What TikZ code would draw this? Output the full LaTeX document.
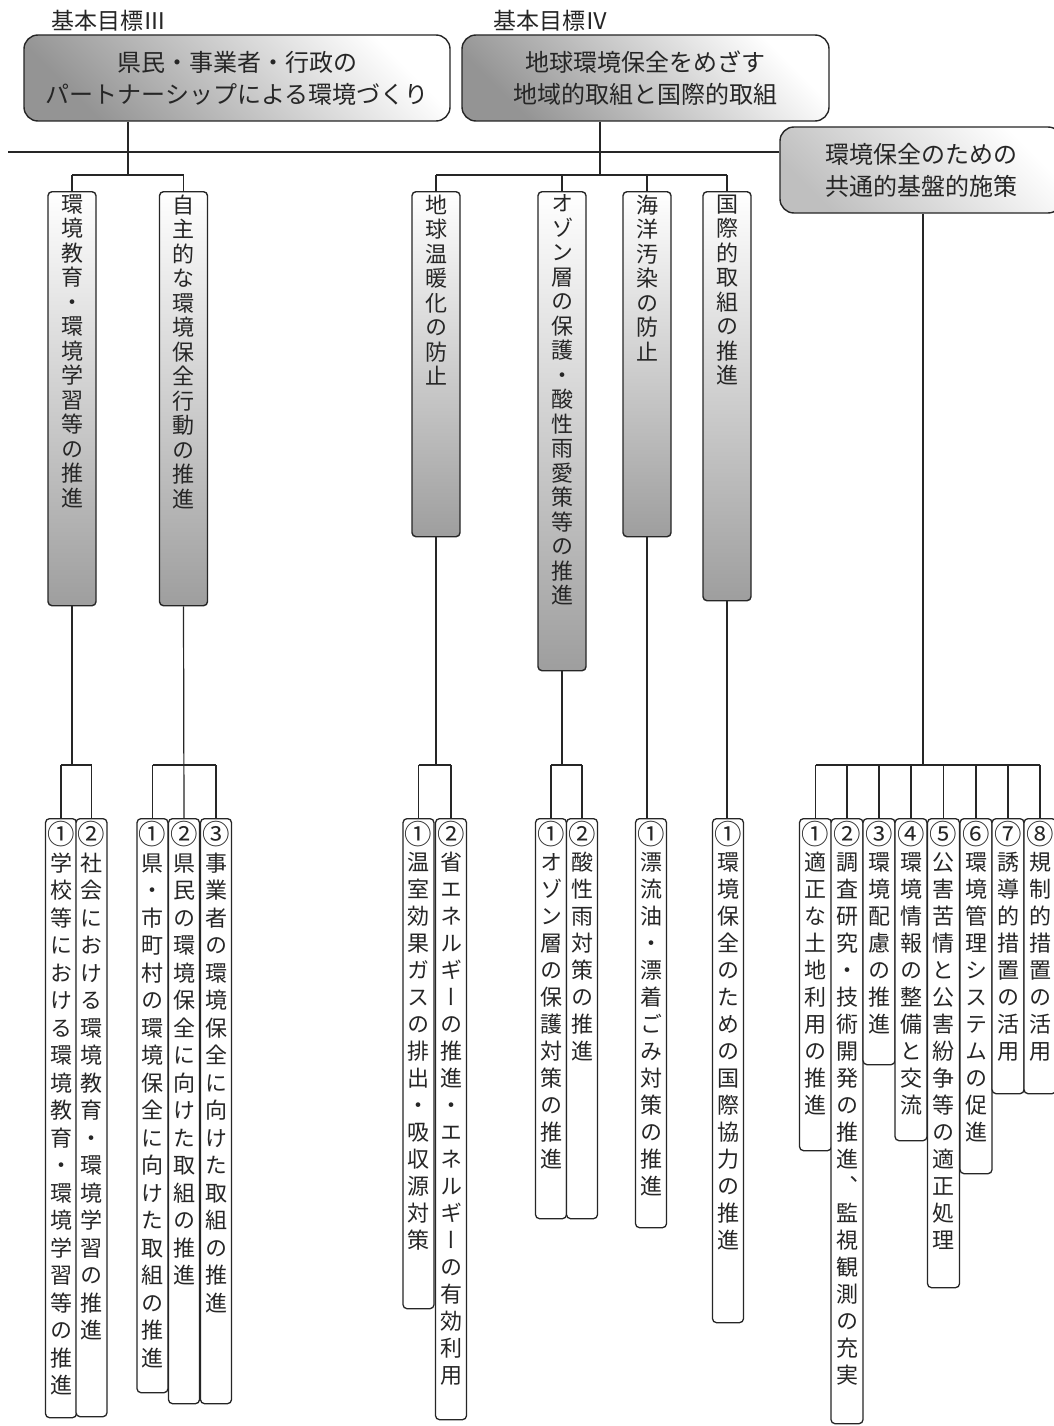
\documentclass[tikz,border=0pt]{standalone}
\usepackage{fontspec}
\usepackage{graphicx}
\setmainfont{Noto Sans CJK JP}
\newfontfamily\vfont[RawFeature=+vert]{Noto Sans CJK JP}
\usetikzlibrary{positioning, calc}

% vertical column of characters: pitch, height, text
\ExplSyntaxOn
\tl_const:Nn \c_circnum_tl { ①②③④⑤⑥⑦⑧ }
\NewDocumentCommand \vcol { m m m }
  {
    \vbox_to_ht:nn { #2pt }
      {
        \vfont
        \skip_set:Nn \baselineskip { #1pt }
        \dim_set:Nn \lineskiplimit { -100pt }
        \skip_set:Nn \lineskip { 0pt }
        \vskip 3pt
        \tl_map_inline:nn {#3}
          {
            \tl_if_in:NnTF \c_circnum_tl {##1}
              { \hbox_to_wd:nn { 1em } { \hss \raisebox{-0.05em}{\scalebox{1.25}{##1}} \hss } }
              { \hbox_to_wd:nn { 1em } { \hss ##1 \hss } }
          }
        \vfil
      }
  }
\ExplSyntaxOff

\begin{document}
\begin{tikzpicture}[x=1pt, y=-1pt,
    goal/.style={draw=black!85, line width=1.4pt, rounded corners=14pt, align=center, text=black!85,
        font=\fontsize{24}{32}\selectfont, top color=white, bottom color=black!42, shading angle=-45,
        minimum width=426pt, minimum height=86pt, inner sep=0pt},
    goallab/.style={font=\fontsize{23}{26}\selectfont, text=black!85, inner sep=0pt},
    catbox/.style={draw=black!85, line width=1.4pt, rounded corners=4pt, top color=white, bottom color=black!38,
        minimum width=48pt, inner sep=0pt, anchor=north, text=black!85, font=\fontsize{22}{24}\selectfont},
    itembox/.style={draw=black!85, line width=1.3pt, rounded corners=4pt, fill=white,
        minimum width=31pt, inner sep=0pt, anchor=north, text=black!85, font=\fontsize{22}{24}\selectfont},
    link/.style={draw=black!85, line width=1.2pt},
]
    \useasboundingbox[fill=white] (0,0) rectangle (1053,1426);

    % Basic goals
    \node[goallab] (g3lab) at (109,21) {基本目標Ⅲ};
    \node[goallab] (g4lab) at (551,21) {基本目標Ⅳ};
    \node[goal] (g3) at (237,78) {県民・事業者・行政の\\パートナーシップによる環境づくり};
    \node[goal, minimum width=367pt] (g4) at (645.5,78) {地球環境保全をめざす\\地域的取組と国際的取組};
    \node[goal, minimum width=282pt, bottom color=black!25, shading angle=-45] (g5) at (921,170) {環境保全のための\\共通的基盤的施策};

    \coordinate (lhead) at (8,152);
    \draw[link] (lhead) -- (lhead -| g5.west);

    % Goal III
    \node[catbox] (a1) at (72,191) {\vcol{24.5}{414}{環境教育・環境学習等の推進}};
    \node[catbox] (a2) at (183.5,191) {\vcol{24.5}{414}{自主的な環境保全行動の推進}};

    \node[itembox] (i11) at (61,818) {\vcol{27.5}{599}{①学校等における環境教育・環境学習等の推進}};
    \node[itembox] (i12) at (91.5,818) {\vcol{27.5}{598}{②社会における環境教育・環境学習の推進}};
    \node[itembox] (i21) at (152.5,818) {\vcol{27.5}{574}{①県・市町村の環境保全に向けた取組の推進}};
    \node[itembox] (i22) at (184,818) {\vcol{27.5}{585}{②県民の環境保全に向けた取組の推進}};
    \node[itembox] (i23) at (216,818) {\vcol{27.5}{585}{③事業者の環境保全に向けた取組の推進}};

    % Goal IV
    \node[catbox] (b1) at (436,191) {\vcol{24.5}{345}{地球温暖化の防止}};
    \node[catbox] (b2) at (562,191) {\vcol{24.5}{479}{オゾン層の保護・酸性雨愛策等の推進}};
    \node[catbox] (b3) at (647,191) {\vcol{24.5}{345}{海洋汚染の防止}};
    \node[catbox] (b4) at (727,191) {\vcol{24.5}{409}{国際的取組の推進}};

    \node[itembox] (i31) at (418.5,818) {\vcol{27}{490}{①温室効果ガスの排出・吸収源対策}};
    \node[itembox] (i32) at (451,818) {\vcol{27}{601}{②省エネルギーの推進・エネルギーの有効利用}};
    \node[itembox] (i41) at (551,818) {\vcol{27}{400}{①オゾン層の保護対策の推進}};
    \node[itembox] (i42) at (582,818) {\vcol{27}{400}{②酸性雨対策の推進}};
    \node[itembox] (i51) at (651,818) {\vcol{27}{409}{①漂流油・漂着ごみ対策の推進}};
    \node[itembox] (i61) at (728,818) {\vcol{27}{504}{①環境保全のための国際協力の推進}};

    % Common measures
    \node[itembox, minimum width=32pt] (c1) at (815.5,818) {\vcol{27}{332}{①適正な土地利用の推進}};
    \node[itembox, minimum width=32pt] (c2) at (847,818) {\vcol{27}{605}{②調査研究・技術開発の推進、監視観測の充実}};
    \node[itembox, minimum width=32pt] (c3) at (879,818) {\vcol{27}{246}{③環境配慮の推進}};
    \node[itembox, minimum width=32pt] (c4) at (911,818) {\vcol{27}{322}{④環境情報の整備と交流}};
    \node[itembox, minimum width=32pt] (c5) at (943.5,818) {\vcol{27}{469}{⑤公害苦情と公害紛争等の適正処理}};
    \node[itembox, minimum width=32pt] (c6) at (976,818) {\vcol{27}{355}{⑥環境管理システムの促進}};
    \node[itembox, minimum width=32pt] (c7) at (1008,818) {\vcol{27}{275}{⑦誘導的措置の活用}};
    \node[itembox, minimum width=32pt] (c8) at (1040,818) {\vcol{27}{275}{⑧規制的措置の活用}};

    % Connectors, goal III
    \coordinate (j3) at (128,175);
    \draw[link] (j3 |- g3.south) -- (j3);
    \draw[link] (a1.north |- j3) -- (a2.north |- j3);
    \draw[link] (a1.north) -- (a1.north |- j3);
    \draw[link] (a2.north) -- (a2.north |- j3);
    \coordinate (ja1) at (72,765);
    \draw[link] (a1.south) -- (ja1);
    \draw[link] (i11.north |- ja1) -- (i12.north |- ja1);
    \draw[link] (i11.north) -- (i11.north |- ja1);
    \draw[link] (i12.north) -- (i12.north |- ja1);
    \coordinate (ja2) at (183.5,765);
    \draw[link] (a2.south) -- (i22.north);
    \draw[link] (i21.north |- ja2) -- (i23.north |- ja2);
    \draw[link] (i21.north) -- (i21.north |- ja2);
    \draw[link] (i23.north) -- (i23.north |- ja2);

    % Connectors, goal IV
    \coordinate (j4) at (600,175);
    \draw[link] (j4 |- g4.south) -- (j4);
    \draw[link] (b1.north |- j4) -- (b4.north |- j4);
    \foreach \n in {1,...,4}
        \draw[link] (b\n.north) -- (b\n.north |- j4);
    \coordinate (jb1) at (436,765);
    \draw[link] (b1.south) -- (jb1);
    \draw[link] (i31.north |- jb1) -- (i32.north |- jb1);
    \draw[link] (i31.north) -- (i31.north |- jb1);
    \draw[link] (i32.north) -- (i32.north |- jb1);
    \coordinate (jb2) at (562,765);
    \draw[link] (b2.south) -- (jb2);
    \draw[link] (i41.north |- jb2) -- (i42.north |- jb2);
    \draw[link] (i41.north) -- (i41.north |- jb2);
    \draw[link] (i42.north) -- (i42.north |- jb2);
    \draw[link] (b3.south) -- (b3.south |- i51.north);
    \draw[link] (b4.south) -- (b4.south |- i61.north);

    % Connectors, common measures
    \coordinate (j5) at (923,765);
    \draw[link] (j5 |- g5.south) -- (j5);
    \draw[link] (c1.north |- j5) -- (c8.north |- j5);
    \foreach \n in {1,...,8}
        \draw[link] (c\n.north) -- (c\n.north |- j5);
\end{tikzpicture}
\end{document}
